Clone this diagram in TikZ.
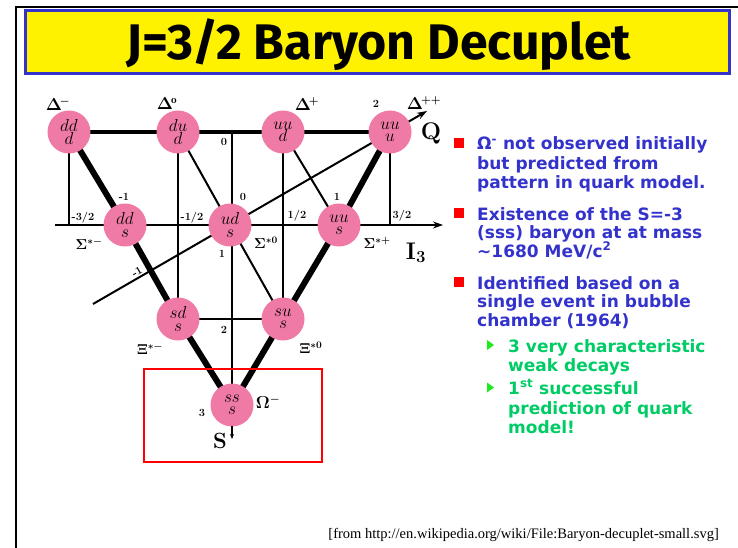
\documentclass[tikz,border=0pt]{standalone}
\usepackage{fontspec}
\usepackage{amsmath}
\newfontfamily\comic{Fira Sans}
\newfontfamily\bodyfont{DejaVu Sans}
\newfontfamily\footfont{Liberation Serif}
\usetikzlibrary{backgrounds,arrows.meta}
\definecolor{pinkc}{RGB}{240,122,166}
\definecolor{bluetxt}{RGB}{51,51,204}
\definecolor{greentxt}{RGB}{0,204,102}
\definecolor{greenbul}{RGB}{30,235,30}
\begin{document}
\begin{tikzpicture}[x=1pt,y=-1pt,
  quark/.style={circle, fill=pinkc, minimum size=43pt, inner sep=0pt, align=center,
    font=\fontsize{18}{12.5}\selectfont},
  thickedge/.style={line width=6pt},
  topedge/.style={line width=4.5pt},
  thinline/.style={line width=2pt},
  vline/.style={line width=1.6pt},
  lab/.style={inner sep=0pt, font=\bfseries\fontsize{11}{11}\selectfont},
  glab/.style={inner sep=0pt, font=\boldmath\fontsize{16}{16}\selectfont},
  slab/.style={inner sep=0pt, font=\boldmath\fontsize{14}{14}\selectfont},
  maintxt/.style={anchor=base west, inner sep=0pt, text=bluetxt, font=\bodyfont\bfseries\fontsize{17}{19}\selectfont},
  subtxt/.style={anchor=base west, inner sep=0pt, text=greentxt, font=\bodyfont\bfseries\fontsize{17}{19}\selectfont},
  redbul/.style={fill=red, minimum size=10pt, inner sep=0pt},
]
\useasboundingbox (0,0) rectangle (738,548);
% frame
\draw[line width=2pt] (16,548) -- (16,7) -- (738,7);
% title
\node[draw=bluetxt, line width=3pt, fill=yellow, minimum width=704pt, minimum height=63pt, inner sep=0pt] (title) at (377.5,42) {};
\node[font=\comic\bfseries\fontsize{50}{50}\selectfont, anchor=base] (ttext) at (379,60) {J=3/2 Baryon Decuplet};

% quark nodes
\node[quark] (Dm)  at (69,132)  {$dd$\\$d$};
\node[quark] (D0)  at (178,132) {$du$\\$d$};
\node[quark] (Dp)  at (283,132) {$uu$\\$d$};
\node[quark] (Dpp) at (390,132) {$uu$\\$u$};
\node[quark] (Sm)  at (125,225) {$dd$\\$s$};
\node[quark] (S0)  at (230,225) {$ud$\\$s$};
\node[quark] (Sp)  at (339,225) {$uu$\\$s$};
\node[quark] (Xm)  at (178,319) {$sd$\\$s$};
\node[quark] (X0)  at (283,319) {$su$\\$s$};
\node[quark] (Om)  at (232,405) {$ss$\\$s$};

\coordinate (i3s) at (55,225);
\coordinate (i3e) at (443,225);
\coordinate (qs) at (93,304);
\coordinate (qe) at (427,111);
\coordinate (a1) at (69,225);
\coordinate (a5) at (390,225);
\coordinate (stop) at (232,132);
\coordinate (sarr1) at (232,426);
\coordinate (sarr2) at (232,439);

\begin{scope}[on background layer]
  \draw[topedge] (Dm.center) -- (Dpp.center);
  \draw[thickedge] (Dm.center) -- (Sm.center) -- (Xm.center) -- (Om.center);
  \draw[thickedge] (Dpp.center) -- (Sp.center) -- (X0.center) -- (Om.center);
  \draw[thinline] (D0.center) -- (S0.center);
  \draw[thinline] (Dp.center) -- (Sp.center);
  \draw[thinline] (S0.center) -- (X0.center);
  \draw[thinline] (Xm.center) -- (X0.center);
  \draw[vline] (Dm.center) -- (a1);
  \draw[vline] (D0.center) -- (Xm.center);
  \draw[thinline] (stop) -- (Om.center);
  \draw[vline] (Dp.center) -- (X0.center);
  \draw[vline] (Dpp.center) -- (a5);
  \draw[thinline, -{Stealth[length=10pt,width=7pt]}] (i3s) -- (i3e);
  \draw[thinline, -{Stealth[length=10pt,width=7pt]}] (qs) -- (qe);
\end{scope}
\draw[line width=1.5pt, -{Stealth[length=5pt,width=4pt]}] (sarr1) -- (sarr2);

% red box
\node[draw=red, line width=2pt, minimum width=178pt, minimum height=93pt, inner sep=0pt] (rbox) at (233,415.5) {};

% labels
\node[glab] (lDm) at (58,104) {$\Delta^{\!-}$};
\node[glab] (lD0) at (167,104) {$\Delta^{\!\mathrm{o}}$};
\node[glab] (lDp) at (307,104) {$\Delta^{\!+}$};
\node[glab] (lDpp) at (424,103) {$\Delta^{\!++}$};
\node[slab] (lSm) at (89,244) {$\Sigma^{*-}$};
\node[slab] (lS0) at (266,243) {$\Sigma^{*0}$};
\node[slab] (lSp) at (377,243) {$\Sigma^{*+}$};
\node[slab] (lXm) at (150,349) {$\Xi^{*-}$};
\node[slab] (lX0) at (311,348) {$\Xi^{*0}$};
\node[glab] (lOm) at (268,402) {$\Omega^{-}$};

\node[lab] (q1) at (124,197) {-1};
\node[lab] (q2) at (224,142) {0};
\node[lab] (q3) at (243,197) {0};
\node[lab] (q4) at (337,197) {1};
\node[lab] (q5) at (376,104) {2};
\node[lab, rotate=30] (q6) at (137,272) {-1};
\node[lab] (i1) at (83,218) {-3/2};
\node[lab] (i2) at (192,218) {-1/2};
\node[lab] (i3) at (297,216) {1/2};
\node[lab] (i4) at (402,216) {3/2};
\node[lab] (s1) at (222,254) {1};
\node[lab] (s2) at (224,330) {2};
\node[lab] (s3) at (202,413) {3};

\node[inner sep=0pt, font=\bfseries\fontsize{24}{24}\selectfont] (Qlab) at (431,133) {Q};
\node[inner sep=0pt, font=\bfseries\fontsize{24}{24}\selectfont] (Ilab) at (416,253) {I\textsubscript{3}};
\node[inner sep=0pt, font=\bfseries\fontsize{22}{22}\selectfont] (Slab) at (220,441) {S};

% right text
\node[redbul] (b1) at (458.5,143) {};
\node[redbul] (b2) at (458.5,213) {};
\node[redbul] (b3) at (458.5,282) {};
\node[maintxt] (t1) at (477,150) {Ω\textsuperscript{-} not observed initially};
\node[maintxt] (t2) at (477,169) {but predicted from};
\node[maintxt] (t3) at (477,188) {pattern in quark model.};
\node[maintxt] (t4) at (477,220) {Existence of the S=-3};
\node[maintxt] (t5) at (477,238.5) {(sss) baryon at at mass};
\node[maintxt] (t6) at (477,257) {\textasciitilde1680 MeV/c\textsuperscript{2}};
\node[maintxt] (t7) at (477,289) {Identified based on a};
\node[maintxt] (t8) at (477,307.5) {single event in bubble};
\node[maintxt] (t9) at (477,326) {chamber (1964)};
\fill[greenbul] (487,340) -- (494,345) -- (487,350) -- cycle;
\fill[greenbul] (487,382.5) -- (494,387.5) -- (487,392.5) -- cycle;
\node[subtxt] (u1) at (508,352) {3 very characteristic};
\node[subtxt] (u2) at (508,371) {weak decays};
\node[subtxt] (u3) at (508,394) {1\textsuperscript{st} successful};
\node[subtxt] (u4) at (508,414) {prediction of quark};
\node[subtxt] (u5) at (508,433) {model!};

\node[anchor=base east, inner sep=0pt, font=\footfont\fontsize{14.5}{14.5}\selectfont] (foot) at (719,538) {[from http://en.wikipedia.org/wiki/File:Baryon-decuplet-small.svg]};
\end{tikzpicture}
\end{document}
